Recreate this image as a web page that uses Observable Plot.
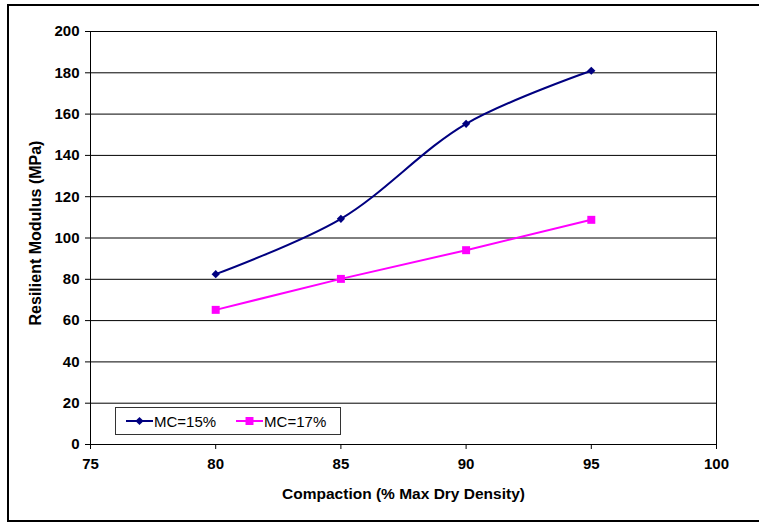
<!DOCTYPE html>
<html>
<head>
<meta charset="utf-8">
<script src="https://cdn.jsdelivr.net/npm/d3@7"></script>
<script src="https://cdn.jsdelivr.net/npm/@observablehq/plot@0.6"></script>
<style>
  html, body { margin: 0; padding: 0; background: #fff; }
  #wrap { position: relative; width: 759px; height: 522px; overflow: hidden; font-family: "Liberation Sans", Arial, sans-serif; }
  #border { position: absolute; left: 7px; top: 4px; width: 756px; height: 518px; box-sizing: border-box; border: 2px solid #000; pointer-events: none; }
  #legend { position: absolute; left: 115px; top: 407px; width: 226px; height: 28px; box-sizing: border-box; border: 1px solid #333; background: #fff; display: flex; align-items: center; font-size: 15px; color: #000; }
  .item { display: flex; align-items: center; }
  .item svg { display: block; }
</style>
</head>
<body>
<div id="wrap">
  <div id="chart"></div>
  <div id="legend"></div>
  <div id="border"></div>
</div>
<script>
const compaction = [80, 85, 90, 95];
const mc15 = [82.5, 109.3, 155.3, 181.0];
const mc17 = [65.2, 80.2, 94.1, 108.8];
const xTicks = [75, 80, 85, 90, 95, 100];
const yTicks = [0, 20, 40, 60, 80, 100, 120, 140, 160, 180, 200];
const seriesNames = ["MC=15%", "MC=17%"];
const seriesColors = ["#000080", "#FF00FF"];
const xTitle = "Compaction (% Max Dry Density)";
const yTitle = "Resilient Modulus (MPa)";

const d15 = compaction.map((c, i) => ({x: c, y: mc15[i]}));
const d17 = compaction.map((c, i) => ({x: c, y: mc17[i]}));

const chart = Plot.plot({
  width: 759,
  height: 522,
  marginTop: 31,
  marginRight: 43,
  marginBottom: 78,
  marginLeft: 90,
  style: {fontFamily: "'Liberation Sans', Arial, sans-serif", fontSize: "15px", fontWeight: "bold", color: "#000", background: "transparent"},
  x: {domain: [75, 100]},
  y: {domain: [0, 200]},
  marks: [
    Plot.gridY(yTicks, {stroke: "#000", strokeOpacity: 1, strokeWidth: 1}),
    Plot.frame({stroke: "#000", strokeWidth: 1}),
    Plot.axisX({ticks: xTicks, tickSize: 5, tickPadding: 9, label: null, tickFormat: d => String(d), fill: "#000"}),
    Plot.axisY({ticks: yTicks, tickSize: 5, tickPadding: 6, label: null, tickFormat: d => String(d), fill: "#000"}),
    Plot.line(d17, {x: "x", y: "y", stroke: seriesColors[1], strokeWidth: 2}),
    Plot.line(d15, {x: "x", y: "y", stroke: seriesColors[0], strokeWidth: 2, curve: "catmull-rom"}),
    Plot.dot(d17, {x: "x", y: "y", symbol: "square", r: 4.5, fill: seriesColors[1], stroke: "none"}),
    Plot.dot(d15, {x: "x", y: "y", symbol: "diamond2", r: 3.7, fill: seriesColors[0], stroke: "none"}),
    Plot.text([xTitle], {text: d => d, frameAnchor: "bottom", dy: 43, lineAnchor: "top", textAnchor: "middle", fontSize: 15.5, fontWeight: "bold", fill: "#000"}),
    Plot.text([yTitle], {text: d => d, frameAnchor: "left", dx: -55, dy: -5, rotate: -90, textAnchor: "middle", lineAnchor: "middle", fontSize: 16, fontWeight: "bold", fill: "#000"})
  ]
});
document.getElementById("chart").appendChild(chart);

// Legend
const legend = document.getElementById("legend");
seriesNames.forEach((name, i) => {
  const item = document.createElement("div");
  item.className = "item";
  item.style.marginLeft = i === 0 ? "10px" : "20px";
  const svg = d3.create("svg").attr("width", 27).attr("height", 12);
  svg.append("line").attr("x1", 0).attr("x2", 27).attr("y1", 6).attr("y2", 6)
    .attr("stroke", seriesColors[i]).attr("stroke-width", 2);
  const sz = i === 0 ? 3.7 * 3.7 * Math.PI : 4.5 * 4.5 * Math.PI;
  const sym = i === 0 ? d3.symbolDiamond2 : d3.symbolSquare;
  svg.append("path").attr("d", d3.symbol(sym, sz)()).attr("transform", "translate(13.5,6)").attr("fill", seriesColors[i]);
  item.appendChild(svg.node());
  const label = document.createElement("span");
  label.textContent = name;
  label.style.marginLeft = "1px";
  item.appendChild(label);
  legend.appendChild(item);
});
</script>
</body>
</html>
